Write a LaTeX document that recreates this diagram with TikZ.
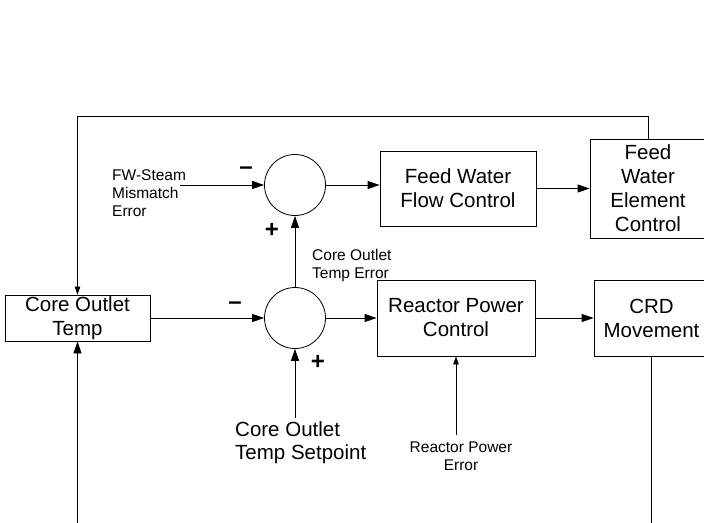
\documentclass[tikz,border=0pt]{standalone}
\usepackage{fontspec}
\setmainfont{Liberation Sans}
\usetikzlibrary{arrows.meta}

\tikzset{
  block/.style={draw,rectangle,line width=0.8pt,align=center,inner sep=0pt,font=\fontsize{20.5}{24}\selectfont},
  junction/.style={draw,circle,line width=0.8pt,minimum size=61pt,inner sep=0pt},
  biglbl/.style={align=left,inner sep=0pt,font=\fontsize{20.5}{23}\selectfont},
  smalllbl/.style={inner sep=0pt,font=\fontsize{15.5}{18}\selectfont},
  sign/.style={inner sep=0pt,font=\fontsize{24}{24}\selectfont\bfseries},
  link/.style={line width=0.8pt},
  bigtip/.style={-{Triangle[length=12pt,width=8pt]}},
  smalltip/.style={-{Triangle[length=8pt,width=5.5pt]}}
}

\begin{document}
\begin{tikzpicture}[x=1pt,y=-1pt]
\useasboundingbox (0,0) rectangle (704,522);
\node[block,minimum width=145pt,minimum height=46pt] (cot) at (77.5,318) {Core Outlet\\Temp};
\node[junction] (sumB) at (295,318) {};
\node[junction] (sumA) at (295,185) {};
\node[block,minimum width=156pt,minimum height=75pt] (fwfc) at (458,188.5) {Feed Water\\Flow Control};
\node[block,minimum width=116pt,minimum height=99pt] (fwec) at (648,188.5) {Feed\\Water\\Element\\Control};
\node[block,minimum width=158pt,minimum height=76pt] (rpc) at (456,318) {Reactor Power\\Control};
\node[block,minimum width=115pt,minimum height=76pt] (crd) at (651.5,318) {CRD\\Movement};
\node[smalllbl,align=left,anchor=north west] (fwlbl) at (112,169) {FW-Steam\\Mismatch\\Error};
\node[smalllbl,align=left,anchor=north west] (errlbl) at (312,249) {Core Outlet\\Temp Error};
\node[biglbl,anchor=north west] (splbl) at (235,421) {Core Outlet\\Temp Setpoint};
\node[smalllbl,align=center,anchor=north] (rpelbl) at (461,442) {Reactor Power\\Error};
\node[sign] (mA) at (246,171) {--};
\node[sign] (pA) at (272,230) {+};
\node[sign] (mB) at (235,306) {--};
\node[sign] (pB) at (318,362) {+};
\coordinate (fwin) at (180,185);
\coordinate (top) at (0,116);
\coordinate (cotin) at (77.5,530);
\coordinate (crdout) at (651.5,530);
\draw[link,bigtip] (fwin) -- (sumA.west);
\draw[link,bigtip] (sumA.east) -- (sumA.east -| fwfc.west);
\draw[link,bigtip] (fwfc.east) -- (fwfc.east -| fwec.west);
\draw[link,bigtip] (cot.east) -- (sumB.west);
\draw[link,bigtip] (sumB.north) -- (sumA.south);
\draw[link,bigtip] (sumB.east) -- (rpc.west);
\draw[link,bigtip] (rpc.east) -- (crd.west);
\draw[link,bigtip] ([yshift=3pt]sumB |- splbl.north) -- (sumB.south);
\draw[link,smalltip] ([yshift=7pt]rpc.south |- rpelbl.north) -- (rpc.south);
\draw[link,smalltip] (fwec.north) -- (fwec.north |- top) -| (cot.north);
\draw[link] (crd.south) -- (crdout);
\draw[link,bigtip] (cotin) -- (cot.south);
\end{tikzpicture}
\end{document}
